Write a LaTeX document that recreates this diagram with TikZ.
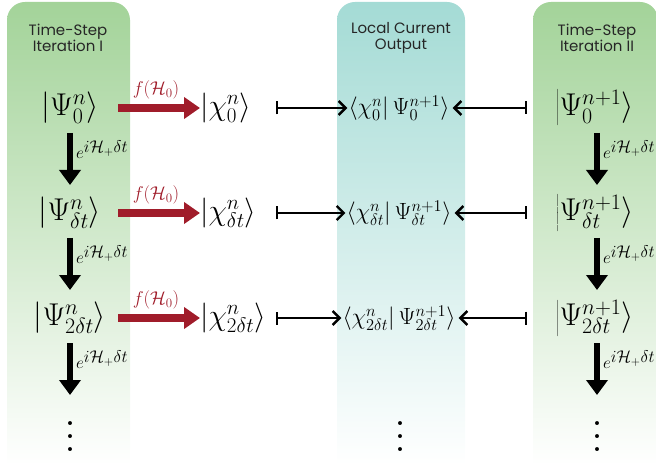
\RequirePackage{fix-cm}
\documentclass[tikz,border=0pt]{standalone}
\usepackage{fontspec}
\setsansfont{Poppins}
\usetikzlibrary{arrows.meta}
\definecolor{pgreen}{RGB}{163,211,153}
\definecolor{pteal}{RGB}{164,219,213}
\definecolor{fred}{RGB}{160,28,42}
\tikzset{
  head/.style={font=\sffamily\fontsize{15}{16.5}\selectfont, align=center, text=black!85},
  bigket/.style={font=\fontsize{31.5}{35}\selectfont, inner sep=0pt},
  chiket/.style={font=\fontsize{30}{34}\selectfont, inner sep=0pt, anchor=west},
  braket/.style={font=\fontsize{23.5}{27}\selectfont, inner sep=0pt},
  evo/.style={line width=6.5pt, -{Triangle[length=15pt,width=21pt]}},
  evolab/.style={font=\fontsize{17}{20}\selectfont, anchor=west, inner sep=0pt},
  fmap/.style={draw=fred, line width=8pt, -{Triangle[length=16pt,width=21pt]}},
  flab/.style={font=\fontsize{18.5}{22}\selectfont, text=fred, inner sep=0pt},
  mapto/.style={line width=2.4pt, {Bar[width=13pt]}-{Straight Barb[length=7pt,width=14pt]}},
  vdts/.style={font=\fontsize{48}{13}\selectfont, inner sep=0pt, align=center},
}
\begin{document}
\begin{tikzpicture}[x=1pt,y=-1pt]
\useasboundingbox (0,0) rectangle (656,465);
% panels
\shade[top color=pgreen, bottom color=white] (7,465) {[rounded corners=18pt] -- (7,2) -- (130,2)} -- (130,465) -- cycle;
\shade[top color=pteal, bottom color=white] (337,465) {[rounded corners=18pt] -- (337,2) -- (465,2)} -- (465,465) -- cycle;
\shade[top color=pgreen, bottom color=white] (533,465) {[rounded corners=18pt] -- (533,2) -- (658,2)} -- (658,465) -- cycle;
% headers
\node[head] (h1) at (68,38) {Time-Step\\Iteration I};
\node[head] (h2) at (401,38) {Local Current\\Output};
\node[head] (h3) at (597,38) {Time-Step\\Iteration II};
% left kets
\node[bigket] (L0) at (70,108) {$\left|\Psi_0^n\right\rangle$};
\node[bigket] (L1) at (70,213) {$\left|\Psi_{\delta t}^n\right\rangle$};
\node[bigket] (L2) at (70,318) {$\left|\Psi_{2\delta t}^n\right\rangle$};
\node[vdts] (L3) at (70,437) {.\\.\\.};
% chi kets
\node[chiket] (C0) at (200,108) {$|\chi_0^n\rangle$};
\node[chiket] (C1) at (200,213) {$|\chi_{\delta t}^n\rangle$};
\node[chiket] (C2) at (200,318) {$|\chi_{2\delta t}^n\rangle$};
% middle
\node[braket] (M0) at (399,108) {$\langle\chi_0^n|\,\Psi_0^{n+1}\rangle$};
\node[braket] (M1) at (399,213) {$\langle\chi_{\delta t}^n|\,\Psi_{\delta t}^{n+1}\rangle$};
\node[braket] (M2) at (399,318) {$\langle\chi_{2\delta t}^n|\,\Psi_{2\delta t}^{n+1}\rangle$};
\node[vdts] (M3) at (400,437) {.\\.\\.};
% right kets
\node[bigket] (R0) at (595,108) {$\left|\Psi_0^{n+1}\right\rangle$};
\node[bigket] (R1) at (595,213) {$\left|\Psi_{\delta t}^{n+1}\right\rangle$};
\node[bigket] (R2) at (595,318) {$\left|\Psi_{2\delta t}^{n+1}\right\rangle$};
\node[vdts] (R3) at (597,437) {.\\.\\.};
% coordinates for arrows
\foreach \r/\y in {0/108,1/213,2/318}{
  \coordinate (fa\r) at (118,\y);
  \coordinate (ma\r) at (276,\y);
  \coordinate (ra\r) at (527,\y);
}
% vertical evolution arrows
\foreach \a/\y in {L0/150,L1/255,L2/360}{
  \draw[evo] (70,\y-17) -- (70,\y+35);
}
\foreach \a/\y in {R0/150,R1/255,R2/360}{
  \draw[evo] (597,\y-17) -- (597,\y+35);
}
\foreach \y in {150,255,360}{
  \node[evolab] at (76,\y) {$e^{\textstyle i\mathcal{H}_+\delta t}$};
  \node[evolab] at (603,\y) {$e^{\textstyle i\mathcal{H}_+\delta t}$};
}
% red maps and current arrows
\foreach \r/\ly in {0/90,1/195,2/300}{
  \draw[fmap] (fa\r) -- (C\r.west);
  \node[flab] at (156,\ly) {$f(\mathcal{H}_0)$};
  \draw[mapto, shorten >=1pt] (ma\r) -- (M\r.west);
  \draw[mapto, shorten >=3pt] (ra\r) -- (M\r.east);
}
\end{tikzpicture}
\end{document}
